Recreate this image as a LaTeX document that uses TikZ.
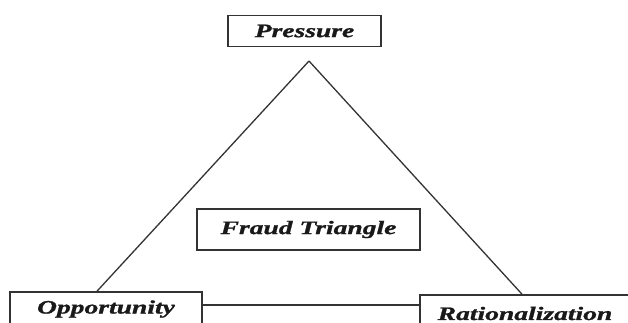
\documentclass[tikz,border=0pt]{standalone}
\usepackage{fontspec}
\setmainfont{Liberation Serif}
\newfontfamily\labfont[FakeStretch=1.45, BoldItalicFeatures={FakeBold=1.2}]{Liberation Serif}
\begin{document}
\begin{tikzpicture}[x=1pt,y=-1pt,
  lab/.style={draw=black!80, line width=1.6pt, inner sep=0pt, fill=white,
    font=\labfont\bfseries\itshape\fontsize{19}{22}\selectfont, text=black!90},
  conn/.style={draw=black!80, line width=1.3pt}]
\useasboundingbox (0,0) rectangle (628,323);
\clip (0,0) rectangle (628,323);
\node[lab, minimum width=153pt, minimum height=31pt] (pres) at (304.5,31) {Pressure};
\node[lab, minimum width=223pt, minimum height=41pt] (fraud) at (308.5,229.5) {Fraud Triangle};
\node[lab, minimum width=192pt, minimum height=34pt] (opp) at (106,309) {Opportunity};
\node[lab, minimum width=210pt, minimum height=37pt] (rat) at (525,313.5) {Rationalization};
\coordinate (apex) at (309,61);
\draw[conn] (apex) -- (opp.north -| 97,0);
\draw[conn] (apex) -- (rat.north -| 522,0);
\draw[conn] (opp.east |- 0,305) -- (rat.west |- 0,305);
\end{tikzpicture}
\end{document}
